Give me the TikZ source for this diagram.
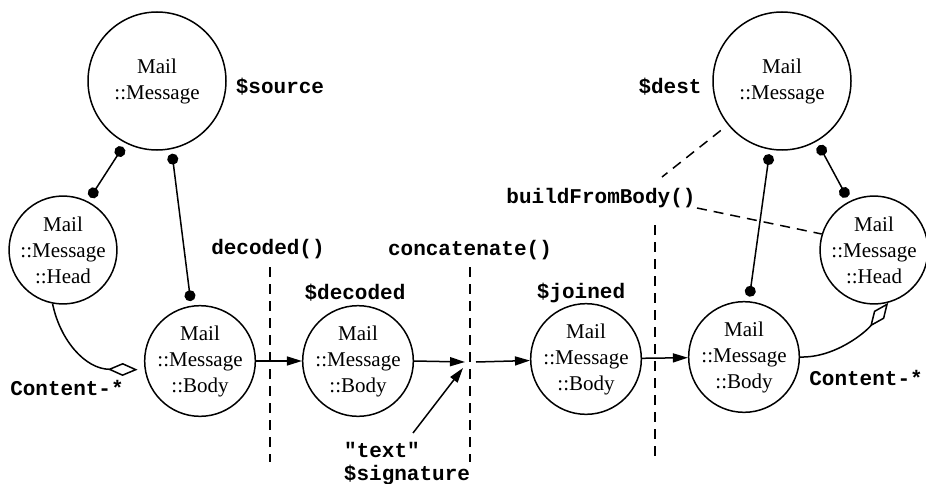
\documentclass[tikz,border=0pt]{standalone}
\usepackage{fontspec}
\setmainfont{Liberation Serif}
\newfontfamily\codefont{Liberation Mono}
\usetikzlibrary{arrows.meta}
\begin{document}
\begin{tikzpicture}[x=1pt,y=-1pt,
  obj/.style={circle,draw,line width=1.5pt,inner sep=0pt,minimum size=106pt,align=center,font=\fontsize{21}{26}\selectfont},
  bigobj/.style={obj,minimum size=138pt},
  lbl/.style={font=\codefont\bfseries\fontsize{21}{26}\selectfont,inner sep=0pt},
  conn/.style={line width=1.5pt},
  flow/.style={conn,-{Triangle[length=15pt,width=9pt]}},
  has/.style={conn,{Circle[length=11pt]}-{Circle[length=11pt]},shorten <=4.5pt,shorten >=4.5pt},
  aggr/.style={conn,-{Diamond[open,length=30pt,width=13pt]}},
  sepline/.style={line width=1.5pt,dash pattern=on 10pt off 7pt},
]
\useasboundingbox (0,0) rectangle (926,484);

% objects
\node[bigobj] (src) at (157,81) {Mail\\::Message};
\node[obj] (head1) at (63,250) {Mail\\::Message\\::Head};
\node[obj] (body1) at (200,361) {Mail\\::Message\\::Body};
\node[obj] (dec) at (358,361) {Mail\\::Message\\::Body};
\node[obj] (join) at (586,359) {Mail\\::Message\\::Body};
\node[bigobj] (dst) at (782,81) {Mail\\::Message};
\node[obj,minimum size=104pt] (head2) at (874,250) {Mail\\::Message\\::Head};
\node[obj] (body3) at (744,357) {Mail\\::Message\\::Body};

% labels
\node[lbl] (srcl) at (280,87) {\$source};
\node[lbl] (dstl) at (670,87) {\$dest};
\node[lbl] (cont1) at (67,388) {Content-*};
\node[lbl] (cont2) at (866,378) {Content-*};
\node[lbl] (decl) at (355,293) {\$decoded};
\node[lbl] (joinl) at (581,293) {\$joined};
\node[lbl] (m1) at (268,249) {decoded()};
\node[lbl] (m2) at (470,250) {concatenate()};
\node[lbl] (bfb) at (601,198) {buildFromBody()};
\node[lbl] (txt) at (382,450) {\symbol{34}text\symbol{34}};
\node[lbl] (sig) at (407,475) {\$signature};

% coordinates
\coordinate (s1t) at (270,267); \coordinate (s1b) at (270,462);
\coordinate (s2t) at (470,267); \coordinate (s2b) at (470,462);
\coordinate (s3t) at (655,225); \coordinate (s3b) at (655,462);
\coordinate (cin) at (465,362);
\coordinate (cout) at (476,362);
\coordinate (tin) at (463,368);
\coordinate (tstart) at (413,433);
\coordinate (bfa) at (662,177);
\coordinate (bfc) at (697,208);

% separators
\draw[sepline] (s1t) -- (s1b);
\draw[sepline] (s2t) -- (s2b);
\draw[sepline] (s3t) -- (s3b);

% has-relations
\draw[has] (src.-117) -- (head1.63);
\draw[has] (src.-78) -- (body1.99);
\draw[has] (dst.-60) -- (head2.117);
\draw[has] (dst.-100) -- (body3.85);

% flow
\draw[flow] (body1) -- (dec);
\draw[flow] (dec.east) -- (cin);
\draw[flow] (tstart) -- (tin);
\draw[flow] (cout) -- (join);
\draw[flow] (join) -- (body3);

% aggregation
\draw[aggr,shorten >=7pt] (head1.-101) .. controls (60,340) and (85,369) .. (body1.189);
\draw[aggr] (body3.east) .. controls (835,358) and (866,332) .. (head2.-75);

% dashed to buildFromBody
\draw[sepline,shorten <=9pt] (dst.-141) -- (bfa);
\draw[sepline] (bfc) -- (head2.163);
\end{tikzpicture}
\end{document}
